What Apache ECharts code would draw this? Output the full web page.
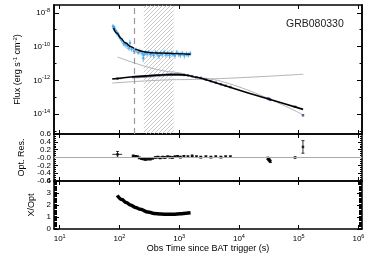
<!DOCTYPE html>
<html><head><meta charset="utf-8">
<script src="https://cdn.jsdelivr.net/npm/echarts@6/dist/echarts.min.js"></script>
<style>html,body{margin:0;padding:0;background:#fff}#c{width:374px;height:267px}</style>
</head><body><div id="c"></div>
<script>
// ---------- data ----------
const xTickExp = [1, 2, 3, 4, 5, 6];
const fluxTickExpMajor = [-14, -12, -10, -8];
const fluxTickExpMinor = [-15, -13, -11, -9];
const grbName = 'GRB080330';

// X-ray (blue) points
const xrayT = [78,80,82,85,88,91,95,99,104,110,117,125,135,145,150,160,175,190,205,220,240,250,255,270,290,310,330,350,375,400,430,460,490,520,560,600,640,690,740,790,850,910,980,1050,1130,1220,1320,1420,1530];
const xrayF = [1.6e-9,1.2e-9,1.4e-9,9e-10,8e-10,6e-10,5.5e-10,4e-10,3e-10,2.2e-10,1.5e-10,1.3e-10,1.1e-10,8e-11,1.6e-10,7e-11,5.5e-11,6e-11,4.5e-11,5e-11,4e-11,2e-11,3.2e-11,4.2e-11,3.8e-11,4.5e-11,3.5e-11,4e-11,3e-11,4.4e-11,3.6e-11,2.8e-11,4e-11,3.4e-11,4.6e-11,3.3e-11,3.9e-11,3e-11,4.2e-11,3.5e-11,2.9e-11,4.5e-11,3.4e-11,3.1e-11,4e-11,2.9e-11,3.6e-11,3.2e-11,3.8e-11];
const xrayErrDex = [0.12,0.15,0.1,0.14,0.12,0.16,0.13,0.15,0.14,0.12,0.15,0.18,0.2,0.16,0.2,0.15,0.18,0.16,0.14,0.17,0.15,0.22,0.18,0.15,0.16,0.14,0.17,0.15,0.18,0.14,0.16,0.19,0.15,0.17,0.14,0.16,0.15,0.18,0.14,0.16,0.18,0.14,0.16,0.17,0.15,0.18,0.15,0.16,0.15];

// X-ray fit (black)
const xfitT = [80,90,106,125,156,190,228,280,335,450,632,900,1550];
const xfitF = [1.25e-9,6.3e-10,3.1e-10,1.66e-10,9.8e-11,6.8e-11,5.4e-11,4.7e-11,4.3e-11,4.1e-11,4.0e-11,3.8e-11,3.5e-11];

// Optical points
const optT = [93,170,185,200,215,235,255,275,300,330,360,400,440,480,530,580,640,700,770,850,940,1050,1200,1400,1650,1950,2300,2800,3400,4100,5000,6000,7200,30500,31500,32500,33500,87000,118000];
const optTErrMinus = [17,0,0,0,0,0,0,0,0,0,0,0,0,0,0,0,0,0,0,0,0,0,0,0,0,0,0,0,0,0,0,0,0,0,0,0,0,7000,0];
const optTErrPlus  = [18,0,0,0,0,0,0,0,0,0,0,0,0,0,0,0,0,0,0,0,0,0,0,0,0,0,0,0,0,0,0,0,0,0,0,0,0,8000,0];
const optF = [1.25e-12,1.55e-12,1.6e-12,1.6e-12,1.62e-12,1.65e-12,1.66e-12,1.7e-12,1.75e-12,1.8e-12,1.85e-12,1.95e-12,1.98e-12,1.98e-12,2.05e-12,2.08e-12,2.15e-12,2.18e-12,2.18e-12,2.2e-12,2.2e-12,2.15e-12,2.1e-12,1.95e-12,1.75e-12,1.52e-12,1.38e-12,1.1e-12,8.9e-13,7.3e-13,5.9e-13,4.8e-13,4.0e-13,8.4e-14,8.0e-14,7.6e-14,7.0e-14,2.7e-14,8.5e-15];
const optRes = [0.08,0.04,0.03,0.02,-0.01,-0.03,-0.04,-0.05,-0.04,-0.04,-0.02,0.0,0.01,-0.01,0.01,0.0,0.02,0.01,0.0,0.02,0.03,0.01,0.03,0.02,0.04,0.02,0.01,0.02,0.01,0.02,0.01,0.02,0.02,-0.02,-0.05,-0.07,-0.1,0.0,0.27];
const optResErr = [0.075,0.02,0.02,0.02,0.02,0.02,0.02,0.02,0.02,0.02,0.02,0.02,0.02,0.02,0.02,0.02,0.02,0.02,0.02,0.02,0.02,0.02,0.02,0.02,0.02,0.02,0.02,0.02,0.02,0.02,0.02,0.02,0.02,0.03,0.03,0.03,0.03,0.01,0.16];

// Optical fit (black)
const ofitT = [76,153,330,500,714,1000,1273,1500,1733,2270,3745,13870,49400,118600];
const ofitF = [1.2e-12,1.58e-12,1.9e-12,2.08e-12,2.19e-12,2.16e-12,2.04e-12,1.86e-12,1.62e-12,1.38e-12,7.9e-13,1.86e-13,4.8e-14,1.9e-14];

// Gray model components
const gDecT = [93,802,2270,120000];
const gDecF = [2.4e-11,3.1e-12,1.38e-12,8.9e-15];
const gFlatT = [76,1060,120000];
const gFlatF = [6.9e-13,1.1e-12,2.3e-12];

// Shaded interval and dashed line (s)
const hatchRange = [256, 810];
const dashedT = 175;

// X/Opt ratio
const ratioT = [92,110,130,153,185,225,300,380,500,630,800,1060,1300,1550];
const ratioV = [2.8,2.45,2.2,2.0,1.8,1.64,1.42,1.3,1.25,1.22,1.23,1.28,1.32,1.35];

// ---------- build ----------
const L = Math.log10;
const FONT = 'Liberation Sans';
const XMIN = 0.905, XMAX = 6.06, YMIN = -15.18, YMAX = -7.54;
const BLUE = '#45a6ee', OPT = '#4c4c7c', GRAY = '#b4b4b4';

const supRich = {
  b: {fontSize: 8, fontFamily: FONT, color: '#000'},
  s: {fontSize: 5.5, fontFamily: FONT, color: '#000', padding: [0, 0, 5, 0]}
};
const expFmt = v => '{b|10}{s|' + Math.round(v) + '}';

function xAx(g, pos, labels, name) {
  const a = {
    type: 'value', gridIndex: g, position: pos, min: XMIN, max: XMAX,
    axisLine: {show: true, onZero: false, lineStyle: {color: '#000', width: 1.5}},
    axisTick: {show: true, inside: true, length: 4, customValues: xTickExp, lineStyle: {color: '#000', width: 1}},
    axisLabel: {show: labels, customValues: xTickExp, margin: 4, formatter: expFmt, rich: supRich},
    splitLine: {show: false}
  };
  if (name) {
    a.name = name; a.nameLocation = 'middle'; a.nameGap = 15;
    a.nameTextStyle = {fontSize: 9, fontFamily: FONT, color: '#000'};
  }
  return a;
}
function yBase(g, pos) {
  return {
    gridIndex: g, position: pos,
    axisLine: {show: true, onZero: false, lineStyle: {color: '#000', width: 1.5}},
    splitLine: {show: false}
  };
}
const yAxes = [];
// top panel
yAxes.push(Object.assign(yBase(0, 'left'), {type: 'value', min: YMIN, max: YMAX,
  axisTick: {show: true, inside: true, length: 5, customValues: fluxTickExpMajor, lineStyle: {color: '#000'}},
  axisLabel: {show: true, customValues: fluxTickExpMajor, margin: 4, formatter: expFmt, rich: supRich},
  name: '{a|Flux (erg s}{s|-1}{a| cm}{s|-2}{a|)}', nameLocation: 'middle', nameRotate: 90, nameGap: 16,
  nameTextStyle: {rich: {a: {fontSize: 9, fontFamily: FONT, color: '#000'}, s: {fontSize: 6, fontFamily: FONT, color: '#000', padding: [0, 0, 5, 0]}}}
}));
yAxes.push(Object.assign(yBase(0, 'left'), {type: 'value', min: YMIN, max: YMAX,
  axisTick: {show: true, inside: true, length: 2.5, customValues: fluxTickExpMinor, lineStyle: {color: '#000'}},
  axisLabel: {show: false}}));
yAxes.push(Object.assign(yBase(0, 'right'), {type: 'value', min: YMIN, max: YMAX,
  axisTick: {show: true, inside: true, length: 5, customValues: fluxTickExpMajor, lineStyle: {color: '#000'}},
  axisLabel: {show: false}}));
yAxes.push(Object.assign(yBase(0, 'right'), {type: 'value', min: YMIN, max: YMAX,
  axisTick: {show: true, inside: true, length: 2.5, customValues: fluxTickExpMinor, lineStyle: {color: '#000'}},
  axisLabel: {show: false}}));
// middle panel
const resFmt = v => Math.abs(v) < 1e-9 ? '-0.0' : v.toFixed(1);
yAxes.push(Object.assign(yBase(1, 'left'), {type: 'value', min: -0.6, max: 0.6, interval: 0.2,
  axisTick: {show: true, inside: true, length: 4, lineStyle: {color: '#000'}},
  minorTick: {show: true, splitNumber: 4, length: 2, lineStyle: {color: '#000'}},
  axisLabel: {show: true, margin: 3, formatter: resFmt, fontSize: 8, fontFamily: FONT, color: '#000', lineHeight: 8},
  name: 'Opt. Res.', nameLocation: 'middle', nameRotate: 90, nameGap: 16,
  nameTextStyle: {fontSize: 9, fontFamily: FONT, color: '#000'}}));
yAxes.push(Object.assign(yBase(1, 'right'), {type: 'value', min: -0.6, max: 0.6, interval: 0.2,
  axisTick: {show: true, inside: true, length: 4, lineStyle: {color: '#000'}},
  minorTick: {show: true, splitNumber: 4, length: 2, lineStyle: {color: '#000'}},
  axisLabel: {show: false}}));
// bottom panel
yAxes.push(Object.assign(yBase(2, 'left'), {type: 'value', min: 0, max: 4, interval: 1,
  axisTick: {show: true, inside: true, length: 5, lineStyle: {color: '#000'}},
  minorTick: {show: true, splitNumber: 10, length: 3, lineStyle: {color: '#000'}},
  axisLabel: {show: true, margin: 3, fontSize: 8, fontFamily: FONT, color: '#000'},
  name: 'X/Opt', nameLocation: 'middle', nameRotate: 90, nameGap: 16,
  nameTextStyle: {fontSize: 9, fontFamily: FONT, color: '#000'}}));
yAxes.push(Object.assign(yBase(2, 'right'), {type: 'value', min: 0, max: 4, interval: 1,
  axisTick: {show: true, inside: true, length: 5, lineStyle: {color: '#000'}},
  minorTick: {show: true, splitNumber: 10, length: 3, lineStyle: {color: '#000'}},
  axisLabel: {show: false}}));

// hatch pattern
const hc = document.createElement('canvas');
hc.width = 4; hc.height = 4;
const hg = hc.getContext('2d');
hg.strokeStyle = '#b2b2b2'; hg.lineWidth = 0.7;
hg.beginPath();
hg.moveTo(0, 4); hg.lineTo(4, 0);
hg.moveTo(-1, 1); hg.lineTo(1, -1);
hg.moveTo(3, 5); hg.lineTo(5, 3);
hg.stroke();

function errSeries(xi, yi, data, color, cap, z) {
  return {
    type: 'custom', xAxisIndex: xi, yAxisIndex: yi, data: data, silent: true, z: z,
    renderItem: function (params, api) {
      const x = api.value(0), y = api.value(1);
      const a = api.coord([x, api.value(2)]), b = api.coord([x, api.value(3)]);
      const l = api.coord([api.value(4), y]), r = api.coord([api.value(5), y]);
      const st = {stroke: color, lineWidth: 0.8};
      const ch = [{type: 'line', shape: {x1: a[0], y1: a[1], x2: b[0], y2: b[1]}, style: st}];
      if (r[0] - l[0] > 0.5) ch.push({type: 'line', shape: {x1: l[0], y1: l[1], x2: r[0], y2: r[1]}, style: st});
      if (cap) {
        ch.push({type: 'line', shape: {x1: a[0] - cap, y1: a[1], x2: a[0] + cap, y2: a[1]}, style: st});
        ch.push({type: 'line', shape: {x1: b[0] - cap, y1: b[1], x2: b[0] + cap, y2: b[1]}, style: st});
      }
      return {type: 'group', children: ch};
    }
  };
}

const xrayErrData = xrayT.map((t, i) => [L(t), L(xrayF[i]), L(xrayF[i]) - xrayErrDex[i], L(xrayF[i]) + xrayErrDex[i], L(t) - 0.012, L(t) + 0.012]);
const optErrData = optT.map((t, i) => [L(t), L(optF[i]), L(optF[i]) - optResErr[i] / 2.5, L(optF[i]) + optResErr[i] / 2.5, L(t - optTErrMinus[i]), L(t + optTErrPlus[i])]);
const resErrData = optT.map((t, i) => [L(t), optRes[i], optRes[i] - optResErr[i], optRes[i] + optResErr[i], L(t - optTErrMinus[i]), L(t + optTErrPlus[i])]);
const pairs = (T, V, fy) => T.map((t, i) => [L(t), fy ? fy(V[i]) : V[i]]);

const series = [
  {type: 'line', xAxisIndex: 0, yAxisIndex: 0, data: [], z: 1, silent: true,
   markArea: {silent: true, itemStyle: {color: {image: hc, repeat: 'repeat'}, borderWidth: 0},
     data: [[{xAxis: L(hatchRange[0])}, {xAxis: L(hatchRange[1])}]]},
   markLine: {silent: true, symbol: ['none', 'none'], label: {show: false},
     lineStyle: {color: '#9a9a9a', type: [6, 4], width: 1.2},
     data: [{xAxis: L(dashedT)}]}},
  {type: 'line', xAxisIndex: 0, yAxisIndex: 0, data: pairs(gDecT, gDecF, L), smooth: 0.3, smoothMonotone: 'x', symbol: 'none',
   lineStyle: {color: GRAY, width: 1}, z: 2, silent: true},
  {type: 'line', xAxisIndex: 0, yAxisIndex: 0, data: pairs(gFlatT, gFlatF, L), smooth: 0.3, smoothMonotone: 'x', symbol: 'none',
   lineStyle: {color: GRAY, width: 1}, z: 2, silent: true},
  errSeries(0, 0, xrayErrData, BLUE, 0, 3),
  {type: 'scatter', xAxisIndex: 0, yAxisIndex: 0, data: pairs(xrayT, xrayF, L), symbol: 'circle', symbolSize: 2.5,
   itemStyle: {color: BLUE}, z: 3, silent: true},
  errSeries(0, 0, optErrData, OPT, 0, 3),
  {type: 'scatter', xAxisIndex: 0, yAxisIndex: 0, data: pairs(optT, optF, L), symbol: 'rect', symbolSize: 2.5,
   itemStyle: {color: OPT}, z: 3, silent: true},
  {type: 'line', xAxisIndex: 0, yAxisIndex: 0, data: pairs(xfitT, xfitF, L), smooth: 0.4, smoothMonotone: 'x', symbol: 'none',
   lineStyle: {color: '#000', width: 1.4}, z: 4, silent: true},
  {type: 'line', xAxisIndex: 0, yAxisIndex: 0, data: pairs(ofitT, ofitF, L), smooth: false, symbol: 'none',
   lineStyle: {color: '#000', width: 1.6, join: 'round'}, z: 4, silent: true},
  {type: 'line', xAxisIndex: 2, yAxisIndex: 4, data: [], z: 1, silent: true,
   markLine: {silent: true, symbol: ['none', 'none'], label: {show: false},
     lineStyle: {color: '#aaaaaa', type: 'solid', width: 1}, data: [{yAxis: 0}]}},
  errSeries(2, 4, resErrData, '#000', 1.5, 3),
  {type: 'scatter', xAxisIndex: 2, yAxisIndex: 4, data: pairs(optT, optRes), symbol: 'rect', symbolSize: 2.5,
   itemStyle: {color: '#000'}, z: 3, silent: true},
  {type: 'line', xAxisIndex: 4, yAxisIndex: 6, data: pairs(ratioT, ratioV), smooth: 0.4, smoothMonotone: 'x', symbol: 'none',
   lineStyle: {color: '#000', width: 3.5}, z: 3, silent: true}
];

const option = {
  animation: false,
  backgroundColor: '#fff',
  grid: [
    {left: 54, right: 12, top: 5, height: 129},
    {left: 54, right: 12, top: 134, height: 47},
    {left: 54, right: 12, top: 181, height: 48}
  ],
  xAxis: [
    xAx(0, 'bottom', false), xAx(0, 'top', false),
    xAx(1, 'bottom', false), xAx(1, 'top', false),
    xAx(2, 'bottom', true, 'Obs Time since BAT trigger (s)'), xAx(2, 'top', false)
  ],
  yAxis: yAxes,
  series: series,
  graphic: [{type: 'text', left: 286, top: 19, style: {text: grbName, font: '10.5px "Liberation Sans"', fill: '#222'}}]
};
const chart = echarts.init(document.getElementById('c'), null, {renderer: 'canvas'});
chart.setOption(option);
</script>
</body></html>
